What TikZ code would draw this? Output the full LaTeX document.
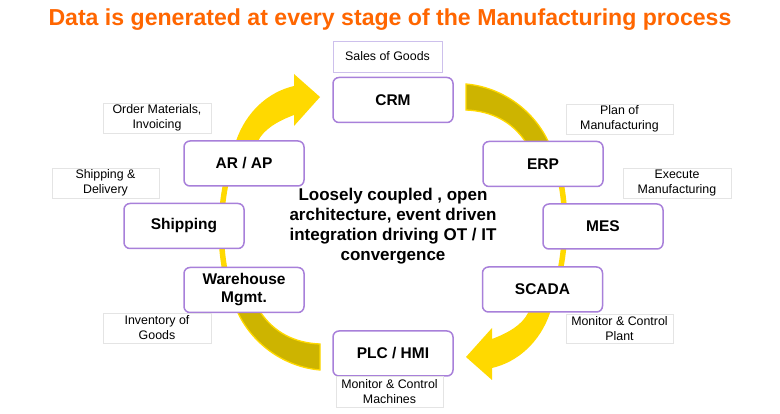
\documentclass[tikz,border=0pt]{standalone}
\usepackage{fontspec}
\setmainfont{Liberation Sans}
\definecolor{ttl}{RGB}{255,102,0}
\definecolor{purp}{RGB}{168,128,218}
\definecolor{yel}{RGB}{255,217,0}
\definecolor{gold}{RGB}{205,180,0}
\definecolor{lgrey}{RGB}{228,228,228}
\definecolor{lpurp}{RGB}{205,192,236}
\tikzset{
  stage/.style={draw=purp, line width=1.5pt, fill=white, rounded corners=6pt,
    minimum width=120pt, minimum height=45pt, align=center,
    font=\fontsize{15.5}{18}\selectfont\bfseries, inner sep=0pt},
  note/.style={draw=lgrey, line width=0.8pt, fill=white, minimum width=108pt,
    minimum height=30pt, align=center, font=\fontsize{12.4}{15}\selectfont, inner sep=0pt},
  darkband/.style={fill=gold, draw=yel, line width=1.3pt},
  brightband/.style={fill=yel}
}
\begin{document}
\begin{tikzpicture}[x=1pt,y=-1pt]
\fill[white] (0,0) rectangle (780,414);
\useasboundingbox (0,0) rectangle (780,414);
% circular arrows (right half; left half is the point reflection)
\foreach \ang in {0,180}{
\begin{scope}[rotate around={\ang:(393,227)}]
  \filldraw[darkband] (466,84) .. controls (500,87) and (532,108) .. (548,141)
     -- (556,165) -- (540,172) -- (525,141) .. controls (512,122) and (492,111) .. (466,110) -- cycle;
  \draw[yel, line width=5.5pt] (558,170) .. controls (566,200) and (568,240) .. (558,280);
  \fill[brightband] (536,290) -- (556,292) -- (550,313)
     .. controls (540,342) and (518,362) .. (492,368) -- (492,380) -- (466,357)
     -- (492,328) -- (492,339) .. controls (508,333) and (522,325) .. (528,313) -- cycle;
\end{scope}}
% title
\node[font=\fontsize{23.1}{26}\selectfont\bfseries, text=ttl] (title) at (390,20)
  {Data is generated at every stage of the Manufacturing process};
% stages
\node[stage] (crm) at (393,100) {CRM};
\node[stage] (erp) at (543,164) {ERP};
\node[stage] (arap) at (244,163.5) {AR / AP};
\node[stage] (ship) at (184,226) {Shipping};
\node[stage] (mes) at (603,226.5) {MES};
\node[stage] (wh) at (244,290) {Warehouse\\Mgmt.};
\node[stage] (scada) at (542.5,289.5) {SCADA};
\node[stage] (plc) at (393,353.5) {PLC / HMI};
% notes
\node[note, draw=lpurp, minimum width=109pt, minimum height=31pt] (n1) at (387.5,56.5) {Sales of Goods};
\node[note] (n2) at (157,118) {Order Materials,\\Invoicing};
\node[note, minimum width=107pt] (n3) at (619.5,119) {Plan of\\Manufacturing};
\node[note, minimum width=107pt] (n4) at (105.5,183) {Shipping \&\\Delivery};
\node[note] (n5) at (677,183) {Execute\\Manufacturing};
\node[note] (n6) at (157,328) {Inventory of\\Goods};
\node[note, minimum width=107pt, minimum height=29pt] (n7) at (619.5,328.5) {Monitor \& Control\\Plant};
\node[note, minimum width=107pt, minimum height=31pt] (n8) at (389.5,391.5) {Monitor \& Control\\Machines};
% centre text
\node[align=center, font=\fontsize{17}{20}\selectfont\bfseries] (centre) at (393,226)
  {Loosely coupled , open\\architecture, event driven\\integration driving OT / IT\\convergence};
\end{tikzpicture}
\end{document}
